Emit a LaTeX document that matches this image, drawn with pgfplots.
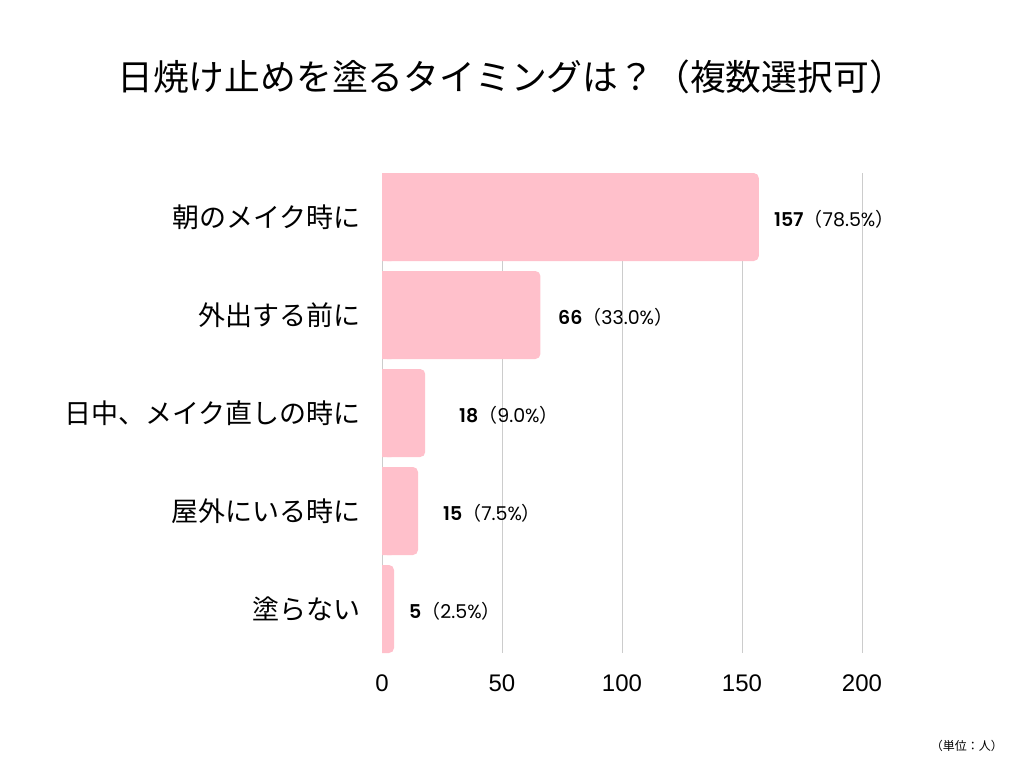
\documentclass[border=0pt]{standalone}
\usepackage{fontspec}
\setmainfont{Liberation Sans}
\newfontfamily\cjk{Noto Sans CJK JP}
\newfontfamily\pop{Poppins}
\newfontfamily\popb{Poppins SemiBold}
\usepackage{pgfplots}
\pgfplotsset{compat=1.18}
\definecolor{barpink}{HTML}{FFC0CB}
\definecolor{gridgray}{HTML}{CCCCCC}
\newcommand{\vl}[2]{{\popb #1}{\cjk（}{\pop #2\%}{\cjk ）}}
\tikzset{vlabel/.style={anchor=west, inner sep=0pt, yshift=-2pt, font=\fontsize{19}{19}\selectfont}}
\begin{document}
\begin{tikzpicture}[x=1pt,y=1pt]
\useasboundingbox (0,0) rectangle (1024,-768);
\node[font=\cjk\fontsize{35.8}{35.8}\selectfont, anchor=center, inner sep=0pt] at (511,-77) {日焼け止めを塗るタイミングは？（複数選択可）};
\node[font=\cjk\fontsize{12}{12}\selectfont, anchor=east, inner sep=0pt] at (1003,-746) {（単位：人）};
\begin{axis}[
  at={(382pt,-653pt)}, anchor=south west,
  scale only axis, width=480pt, height=480pt,
  xmin=0, xmax=200, ymin=-0.449, ymax=4.449, y dir=reverse,
  xbar, bar width=88pt, bar shift=0pt,
  xtick={0,50,100,150,200},
  ytick={0,1,2,3,4},
  yticklabels={朝のメイク時に,外出する前に,日中、メイク直しの時に,屋外にいる時に,塗らない},
  yticklabel style={font=\cjk\fontsize{27}{27}\selectfont, inner sep=0pt, xshift=-21pt},
  xticklabel style={font=\fontsize{24}{24}\selectfont, inner sep=0pt, yshift=-22pt},
  /pgf/number format/assume math mode=true,
  major tick length=0pt,
  axis line style={draw=none},
  xmajorgrids, grid style={gridgray, line width=1pt},
  clip=false,
]
\addplot[draw=none, fill=barpink, rounded corners=5pt] coordinates {(157,0) (66,1) (18,2) (15,3) (5,4)};
\addplot[draw=none, fill=barpink] coordinates {(4,0) (4,1) (4,2) (4,3) (2,4)};
\node[vlabel] at (axis cs:163.3,0) {\vl{157}{78.5}};
\node[vlabel] at (axis cs:73.3,1) {\vl{66}{33.0}};
\node[vlabel] at (axis cs:32.1,2) {\vl{18}{9.0}};
\node[vlabel] at (axis cs:25.4,3) {\vl{15}{7.5}};
\node[vlabel] at (axis cs:11.25,4) {\vl{5}{2.5}};
\end{axis}
\end{tikzpicture}
\end{document}
